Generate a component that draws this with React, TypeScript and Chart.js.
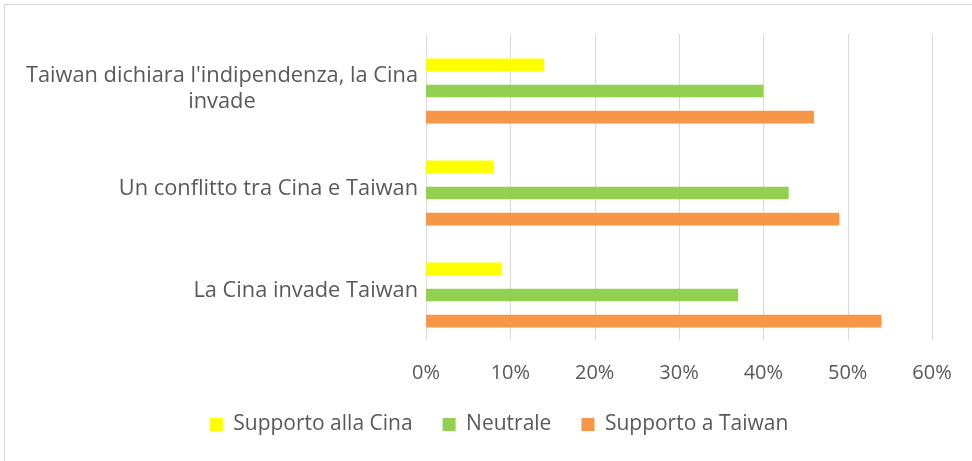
import React, { useEffect, useRef } from "react";
import { Chart, registerables } from "chart.js";

Chart.register(...registerables);

const categories: (string | string[])[] = [
  ["Taiwan dichiara l'indipendenza, la Cina", "invade"],
  "Un conflitto tra Cina e Taiwan",
  "La Cina invade Taiwan",
];
const seriesNames = ["Supporto alla Cina", "Neutrale", "Supporto a Taiwan"];
const supportoCina = [14, 8, 9];
const neutrale = [40, 43, 37];
const supportoTaiwan = [46, 49, 54];
const seriesColors = ["#FFFF00", "#92D050", "#F79646"];

const FONT = "'Open Sans', sans-serif";
const TICK_SIZE = 20;
const LABEL_SIZE = 21.8;
const LEGEND_SIZE = 21;
const TEXT_COLOR = "#595959";

const borderPlugin = {
  id: "outerBorder",
  beforeDraw(chart: any) {
    const ctx = chart.ctx;
    ctx.save();
    ctx.fillStyle = "#ffffff";
    ctx.fillRect(0, 0, chart.width, chart.height);
    ctx.strokeStyle = "#d9d9d9";
    ctx.lineWidth = 1;
    ctx.strokeRect(4.5, 4.5, 1200, 1200);
    ctx.restore();
  },
};

// vertical gridlines of the value axis (drawn slightly above the category band, as in the source)
const gridPlugin = {
  id: "valueGrid",
  beforeDatasetsDraw(chart: any) {
    const x = chart.scales.x;
    const { top, bottom } = chart.chartArea;
    const ctx = chart.ctx;
    ctx.save();
    ctx.strokeStyle = "#d9d9d9";
    ctx.lineWidth = 1;
    x.ticks.forEach((t: any) => {
      const px = Math.round(x.getPixelForValue(t.value)) + 0.5;
      ctx.beginPath();
      ctx.moveTo(px, top - 6);
      ctx.lineTo(px, bottom - 6);
      ctx.stroke();
    });
    ctx.restore();
  },
};

const yLabelPlugin = {
  id: "yLabels",
  afterDraw(chart: any) {
    const scale = chart.scales.y;
    const ctx = chart.ctx;
    ctx.save();
    ctx.font = `${LABEL_SIZE}px ${FONT}`;
    ctx.fillStyle = TEXT_COLOR;
    ctx.textAlign = "center";
    ctx.textBaseline = "middle";
    const lineH = 26;
    const right = scale.right - 8;
    categories.forEach((lab, i) => {
      const lines = Array.isArray(lab) ? lab : [lab];
      const w = Math.max(...lines.map((l) => ctx.measureText(l).width));
      const cx = right - w / 2;
      const cy = scale.getPixelForTick(i) - 4 + (lines.length > 1 ? 2 : 0);
      const start = cy - ((lines.length - 1) * lineH) / 2;
      lines.forEach((l, j) => ctx.fillText(l, cx, start + j * lineH));
    });
    ctx.restore();
  },
};

export default function App() {
  const ref = useRef<HTMLCanvasElement | null>(null);
  useEffect(() => {
    document.body.style.margin = "0";
    const chart = new Chart(ref.current as HTMLCanvasElement, {
      type: "bar",
      data: {
        labels: categories,
        datasets: [supportoCina, neutrale, supportoTaiwan].map((d, i) => ({
          label: seriesNames[i],
          data: d,
          backgroundColor: seriesColors[i],
          borderWidth: 0,
          categoryPercentage: 0.765,
          barPercentage: 0.49,
        })),
      },
      options: {
        indexAxis: "y",
        animation: false,
        responsive: false,
        maintainAspectRatio: false,
        layout: { padding: { top: 40, right: 40, left: 66, bottom: 16 } },
        scales: {
          x: {
            min: 0,
            max: 60,
            ticks: {
              stepSize: 10,
              callback: (v: any) => v + "%",
              color: TEXT_COLOR,
              font: { family: FONT, size: TICK_SIZE },
              padding: 15,
            },
            grid: { display: false, drawTicks: false },
            border: { display: false },
            afterFit: (s: any) => {
              s.height = 38;
            },
          },
          y: {
            ticks: {
              color: "rgba(0,0,0,0)",
              font: { family: FONT, size: 10 },
            },
            grid: { display: false },
            border: { display: false },
            afterFit: (s: any) => {
              s.width = 360;
            },
          },
        },
        plugins: {
          legend: {
            position: "bottom",
            labels: {
              boxWidth: 13,
              boxHeight: 13,
              padding: 30,
              color: TEXT_COLOR,
              font: { family: FONT, size: LEGEND_SIZE },
            },
          },
          tooltip: { enabled: false },
        },
      },
      plugins: [borderPlugin, gridPlugin, yLabelPlugin],
    });
    return () => chart.destroy();
  }, []);
  return <canvas ref={ref} width={972} height={461} style={{ display: "block" }} />;
}
